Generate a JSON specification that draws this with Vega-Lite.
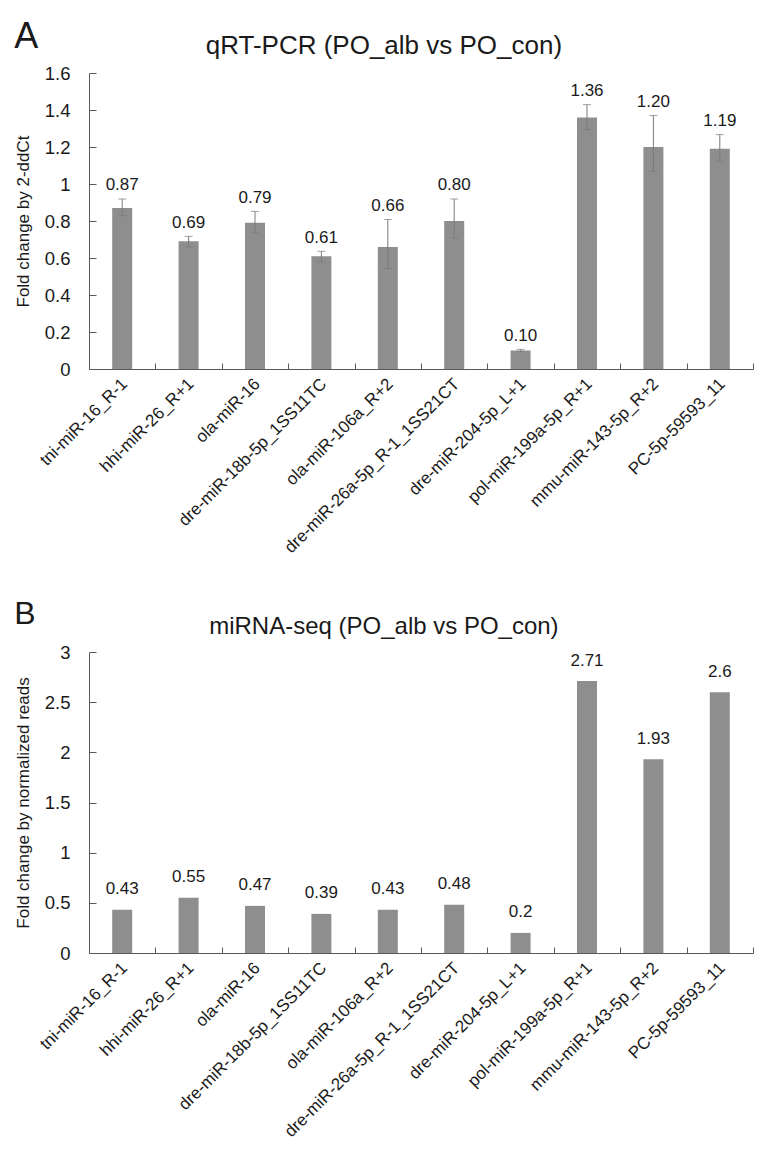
{
  "$schema": "https://vega.github.io/schema/vega-lite/v6.json",
  "background": "white",
  "padding": {"left": 14, "top": 18, "right": 5, "bottom": 5},
  "spacing": 42,
  "config": {
    "font": "Liberation Sans",
    "view": {"stroke": null},
    "axis": {"grid": false, "domainColor": "#595959", "tickColor": "#595959", "labelColor": "#1a1a1a", "titleColor": "#1a1a1a", "labelFont": "Liberation Sans", "titleFont": "Liberation Sans", "labelFontSize": 17, "titleFontSize": 17, "titleFontWeight": "normal", "labelLimit": 400},
    "title": {"font": "Liberation Sans", "fontWeight": "normal", "color": "#1a1a1a"}
  },
  "vconcat": [
    {
      "title": {"text": "A", "anchor": "start", "frame": "bounds", "fontSize": 36, "offset": -23},
      "vconcat": [
        {
          "title": {"text": "qRT-PCR (PO_alb vs PO_con)", "anchor": "middle", "frame": "bounds", "fontSize": 26, "offset": 5.5},
          "width": 664,
          "height": 296,
          "data": {"values": [
            {"mirna": "tni-miR-16_R-1", "fc": 0.87, "lo": 0.829, "hi": 0.919},
            {"mirna": "hhi-miR-26_R+1", "fc": 0.69, "lo": 0.659, "hi": 0.717},
            {"mirna": "ola-miR-16", "fc": 0.79, "lo": 0.735, "hi": 0.852},
            {"mirna": "dre-miR-18b-5p_1SS11TC", "fc": 0.61, "lo": 0.578, "hi": 0.636},
            {"mirna": "ola-miR-106a_R+2", "fc": 0.66, "lo": 0.543, "hi": 0.808},
            {"mirna": "dre-miR-26a-5p_R-1_1SS21CT", "fc": 0.80, "lo": 0.708, "hi": 0.919},
            {"mirna": "dre-miR-204-5p_L+1", "fc": 0.10, "lo": 0.095, "hi": 0.106},
            {"mirna": "pol-miR-199a-5p_R+1", "fc": 1.36, "lo": 1.294, "hi": 1.429},
            {"mirna": "mmu-miR-143-5p_R+2", "fc": 1.20, "lo": 1.069, "hi": 1.370},
            {"mirna": "PC-5p-59593_11", "fc": 1.19, "lo": 1.122, "hi": 1.267}
          ]},
          "encoding": {
            "x": {"field": "mirna", "type": "nominal", "sort": null, "scale": {"paddingInner": 0, "paddingOuter": 0},
                  "axis": {"title": null, "labelAngle": -45, "labelAlign": "right", "labelBaseline": "middle", "tickBand": "extent", "tickSize": -6, "labelPadding": 18, "labelOffset": 2}}
          },
          "layer": [
            {"mark": {"type": "bar", "color": "#8e8e8e", "width": 20},
             "encoding": {"y": {"field": "fc", "type": "quantitative", "scale": {"domain": [0, 1.6], "nice": false},
               "axis": {"title": "Fold change by 2-ddCt", "values": [0, 0.2, 0.4, 0.6, 0.8, 1, 1.2, 1.4, 1.6], "format": "~g", "tickSize": -7, "labelPadding": 26, "titlePadding": 12, "labelFontSize": 18.5}}}},
            {"mark": {"type": "errorbar", "color": "#7a7a7a", "ticks": {"size": 8, "color": "#7a7a7a"}, "rule": {"strokeWidth": 1}},
             "encoding": {"y": {"field": "lo", "type": "quantitative",
               "axis": {"title": "Fold change by 2-ddCt", "values": [0, 0.2, 0.4, 0.6, 0.8, 1, 1.2, 1.4, 1.6], "format": "~g", "tickSize": -7, "labelPadding": 26, "titlePadding": 12, "labelFontSize": 18.5}}, "y2": {"field": "hi"}}},
            {"mark": {"type": "text", "baseline": "bottom", "dy": -4.5, "fontSize": 17, "color": "#1a1a1a"},
             "encoding": {"y": {"field": "hi", "type": "quantitative",
               "axis": {"title": "Fold change by 2-ddCt", "values": [0, 0.2, 0.4, 0.6, 0.8, 1, 1.2, 1.4, 1.6], "format": "~g", "tickSize": -7, "labelPadding": 26, "titlePadding": 12, "labelFontSize": 18.5}}, "text": {"field": "fc", "type": "quantitative", "format": ".2f"}}}
          ]
        }
      ]
    },
    {
      "title": {"text": "B", "anchor": "start", "frame": "bounds", "fontSize": 32, "offset": -16},
      "vconcat": [
        {
          "title": {"text": "miRNA-seq (PO_alb vs PO_con)", "anchor": "middle", "frame": "bounds", "fontSize": 24, "offset": 4},
          "width": 664,
          "height": 301,
          "data": {"values": [
            {"mirna": "tni-miR-16_R-1", "fc": 0.43},
            {"mirna": "hhi-miR-26_R+1", "fc": 0.55},
            {"mirna": "ola-miR-16", "fc": 0.47},
            {"mirna": "dre-miR-18b-5p_1SS11TC", "fc": 0.39},
            {"mirna": "ola-miR-106a_R+2", "fc": 0.43},
            {"mirna": "dre-miR-26a-5p_R-1_1SS21CT", "fc": 0.48},
            {"mirna": "dre-miR-204-5p_L+1", "fc": 0.2},
            {"mirna": "pol-miR-199a-5p_R+1", "fc": 2.71},
            {"mirna": "mmu-miR-143-5p_R+2", "fc": 1.93},
            {"mirna": "PC-5p-59593_11", "fc": 2.6}
          ]},
          "encoding": {
            "x": {"field": "mirna", "type": "nominal", "sort": null, "scale": {"paddingInner": 0, "paddingOuter": 0},
                  "axis": {"title": null, "labelAngle": -45, "labelAlign": "right", "labelBaseline": "middle", "tickBand": "extent", "tickSize": -6, "labelPadding": 18, "labelOffset": 2}},
            "y": {"field": "fc", "type": "quantitative", "scale": {"domain": [0, 3], "nice": false},
               "axis": {"title": "Fold change by normalized reads", "values": [0, 0.5, 1, 1.5, 2, 2.5, 3], "format": "~g", "tickSize": -7, "labelPadding": 26, "titlePadding": 12, "labelFontSize": 18.5}}
          },
          "layer": [
            {"mark": {"type": "bar", "color": "#8e8e8e", "width": 20}},
            {"mark": {"type": "text", "baseline": "bottom", "dy": -11.5, "fontSize": 17, "color": "#1a1a1a"},
             "encoding": {"text": {"field": "fc", "type": "quantitative"}}}
          ]
        }
      ]
    }
  ]
}
